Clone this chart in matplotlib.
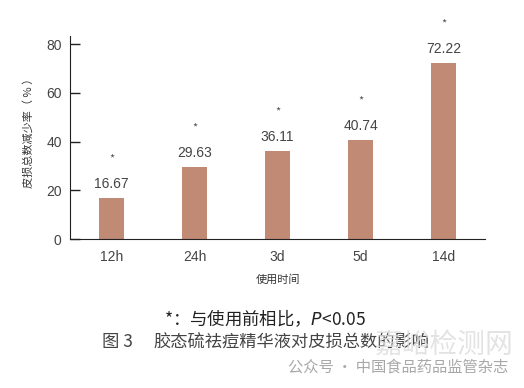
import matplotlib.pyplot as plt

plt.rcParams['font.family'] = ['Noto Sans CJK SC', 'DejaVu Sans']

times = ['12h', '24h', '3d', '5d', '14d']
rates = [16.67, 29.63, 36.11, 40.74, 72.22]
value_labels = ['16.67', '29.63', '36.11', '40.74', '72.22']
yticks = [0, 20, 40, 60, 80]

fig = plt.figure(figsize=(5.24, 3.88), dpi=100)
ax = fig.add_axes([0.1336, 0.384, 0.792, 0.523])

x = range(len(times))
ax.bar(x, rates, width=0.3, color='#C08A75', zorder=2)

for i, v in enumerate(rates):
    ax.annotate(value_labels[i], (i, v), xytext=(0, 5), textcoords='offset points',
                ha='center', va='bottom', fontsize=10, color='#444444',
                family='Liberation Sans', annotation_clip=False)
    ax.annotate('*', (i, v), xytext=(0, 25), textcoords='offset points',
                ha='center', va='bottom', fontsize=8, color='#555555',
                annotation_clip=False)

ax.set_xlim(-0.5, 4.5)
ax.set_ylim(0, 83.3)
ax.set_xticks(list(x))
ax.set_xticklabels(times)
ax.set_yticks(yticks)
ax.tick_params(direction='in', length=7, width=1, colors='#222222',
               labelsize=10, labelcolor='#444444', pad=8)
ax.tick_params(axis='y', pad=6)
for lab in ax.get_xticklabels() + ax.get_yticklabels():
    lab.set_family('Liberation Sans')
ax.spines['top'].set_visible(False)
ax.spines['right'].set_visible(False)
ax.spines['left'].set_color('#222222')
ax.spines['bottom'].set_color('#222222')

ax.set_xlabel('使用时间', fontsize=8, color='#333333', labelpad=7)
fig.text(0.054, 0.665, '皮损总数减少率（ % ）', rotation=90, fontsize=8,
         color='#333333', ha='center', va='center')

fig.text(0.505, 0.180, '*：与使用前相比，$P$<0.05', ha='center', va='center',
         fontsize=12.5, color='#222222')
fig.text(0.195, 0.119, '图 3', ha='left', va='center', fontsize=12.5, color='#444444')
fig.text(0.292, 0.119, '胶态硫祛痘精华液对皮损总数的影响', ha='left', va='center',
         fontsize=12.4, color='#444444')

# watermark
fig.text(0.98, 0.112, '嘉峪检测网', ha='right', va='center', fontsize=20,
         color='#dcdcdc', alpha=0.8)
fig.text(0.97, 0.054, '公众号 · 中国食品药品监管杂志', ha='right', va='center',
         fontsize=11, color='#a8a8a8')

fig.savefig('out.png', dpi=100)
